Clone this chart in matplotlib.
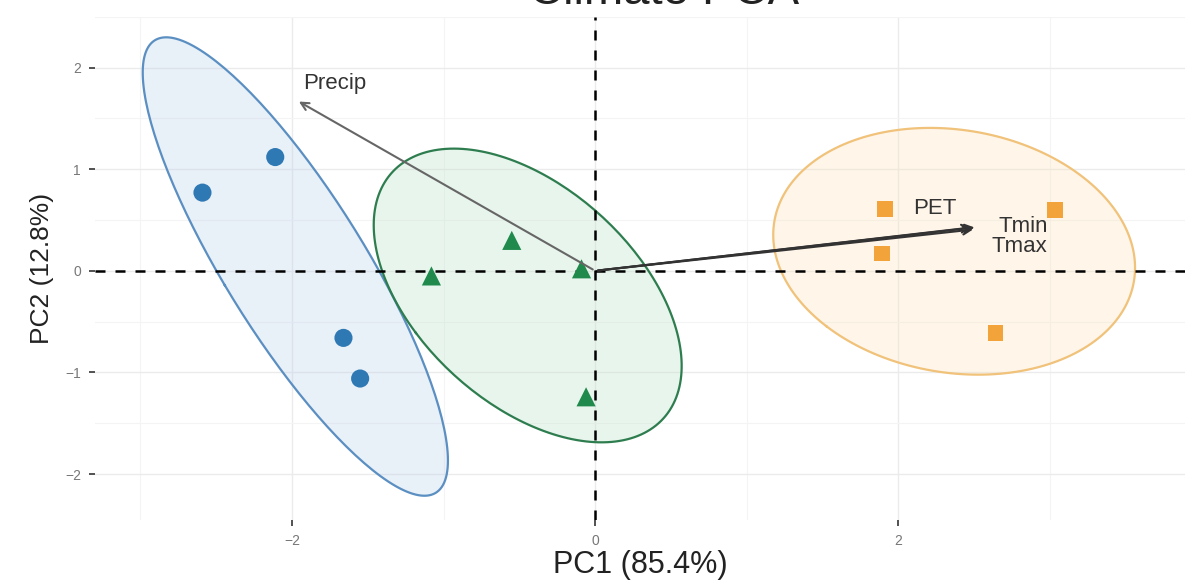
import numpy as np
import matplotlib.pyplot as plt
from matplotlib.ticker import MultipleLocator

plt.rcParams["font.family"] = ["Liberation Sans", "DejaVu Sans"]

# sample scores on PC1 / PC2, one list per group
wet_pc1 = [-2.59, -2.11, -1.66, -1.55]
wet_pc2 = [0.77, 1.12, -0.66, -1.06]
mid_pc1 = [-1.08, -0.55, -0.09, -0.06]
mid_pc2 = [-0.05, 0.30, 0.02, -1.24]
dry_pc1 = [1.91, 1.89, 3.03, 2.64]
dry_pc2 = [0.61, 0.17, 0.60, -0.61]

# variable loadings (arrow tips) and label positions
var_names = ["Precip", "PET", "Tmin", "Tmax"]
load_pc1 = [-1.97, 2.50, 2.52, 2.51]
load_pc2 = [1.68, 0.43, 0.43, 0.41]
label_pc1 = [-1.72, 2.24, 2.82, 2.80]
label_pc2 = [1.84, 0.61, 0.44, 0.24]

xlabel = "PC1 (85.4%)"
ylabel = "PC2 (12.8%)"
title = "Climate PCA"

groups = [
    (wet_pc1, wet_pc2, "o", "#2E78B4", "#5B8FC2", "#BFD4EC", 170),
    (mid_pc1, mid_pc2, "^", "#1F8A4C", "#2E7D4F", "#BFE3CC", 190),
    (dry_pc1, dry_pc2, "s", "#F2A43A", "#F0C27A", "#FFE5C2", 130),
]


def conf_ellipse(x, y, level_r=2.4477, n=200):
    pts = np.column_stack([x, y])
    mu = pts.mean(axis=0)
    cov = np.cov(pts.T, bias=True)
    vals, vecs = np.linalg.eigh(cov)
    t = np.linspace(0, 2 * np.pi, n)
    circ = np.column_stack([np.cos(t), np.sin(t)]) * np.sqrt(vals) * level_r
    return mu + circ @ vecs.T


fig = plt.figure(figsize=(11.85, 5.82), dpi=100)
ax = fig.add_axes([0.080, 0.107, 0.920, 0.864])

for px, py, mk, col, edge, fill, size in groups:
    e = conf_ellipse(px, py)
    ax.fill(e[:, 0], e[:, 1], color=fill, alpha=0.35, lw=0, zorder=1)
    ax.plot(e[:, 0], e[:, 1], color=edge, lw=1.6, zorder=2)
    ax.scatter(px, py, marker=mk, s=size, color=col, edgecolor="none", zorder=4)

ax.axhline(0, color="black", ls=(0, (4, 4)), lw=1.8, zorder=3)
ax.axvline(0, color="black", ls=(0, (4, 4)), lw=1.8, zorder=3)

for i, name in enumerate(var_names):
    col = "#666666" if name == "Precip" else "#333333"
    ax.annotate("", xy=(load_pc1[i], load_pc2[i]), xytext=(0, 0),
                arrowprops=dict(arrowstyle="->", color=col, lw=1.5,
                                mutation_scale=14), zorder=5)
    ax.text(label_pc1[i], label_pc2[i], name, ha="center", va="center",
            fontsize=16, color="#333333", zorder=6)

ax.set_xlim(-3.30, 3.89)
ax.set_ylim(-2.45, 2.50)
ax.xaxis.set_minor_locator(MultipleLocator(1))
ax.yaxis.set_minor_locator(MultipleLocator(0.5))
ax.set_xticks([-2, 0, 2])
ax.set_xticklabels(["\u22122", "0", "2"])
ax.set_yticks([-2, -1, 0, 1, 2])
ax.set_yticklabels(["\u22122", "\u22121", "0", "1", "2"])
ax.grid(which="major", color="#EBEBEB", lw=1.0, zorder=0)
ax.grid(which="minor", color="#F4F4F4", lw=0.8, zorder=0)
ax.set_axisbelow(True)
for s in ax.spines.values():
    s.set_visible(False)
ax.tick_params(which="major", length=4, width=1.2, color="#333333",
               labelsize=10, labelcolor="#777777", pad=6)
ax.tick_params(which="minor", length=0)

ax.set_xlabel(xlabel, fontsize=22, color="#222222", labelpad=2)
ax.set_ylabel(ylabel, fontsize=19, color="#222222", labelpad=8)

# the title sits mostly above the canvas, as in the source image
fig.text(0.56, 1.0 - 4 / 582, title, ha="center", va="baseline",
         fontsize=34, color="#222222")

fig.savefig("out.png", dpi=100)
